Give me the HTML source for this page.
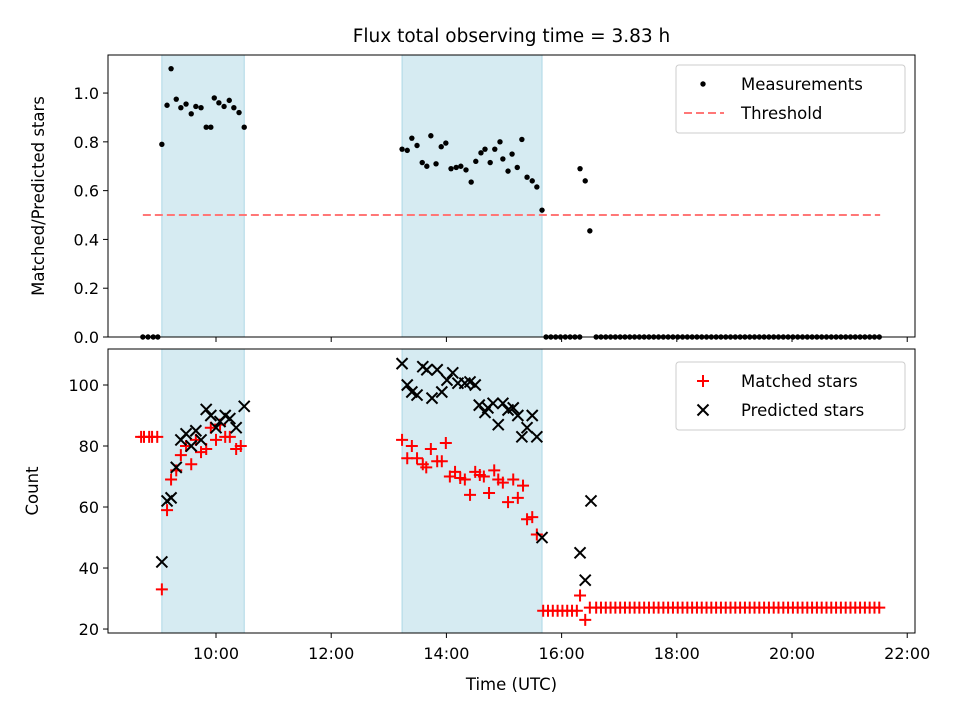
<!DOCTYPE html>
<html><head><meta charset="utf-8"><style>
body{margin:0;background:#fff}
svg{display:block;font-family:"DejaVu Sans","Liberation Sans",sans-serif}
</style></head><body>
<svg id="chart" width="960" height="720"></svg>
<script>
// ---- data (hours UTC) ----
const topTimes=[9.06,9.15,9.22,9.31,9.39,9.48,9.57,9.65,9.74,9.83,9.91,9.97,10.05,10.14,10.23,10.31,10.40,10.49,
13.23,13.32,13.40,13.49,13.58,13.66,13.73,13.82,13.91,13.99,14.08,14.17,14.25,14.34,14.43,14.51,14.60,14.67,14.76,14.84,14.93,14.98,15.07,15.14,15.23,15.31,15.40,15.49,15.57,15.66,16.32,16.41,16.49];
const topRatios=[0.79,0.95,1.10,0.975,0.94,0.955,0.915,0.945,0.94,0.86,0.86,0.98,0.96,0.945,0.97,0.94,0.92,0.86,
0.77,0.765,0.815,0.785,0.715,0.70,0.825,0.71,0.78,0.795,0.69,0.695,0.70,0.685,0.635,0.72,0.755,0.77,0.715,0.77,0.80,0.73,0.68,0.75,0.695,0.81,0.655,0.64,0.615,0.52,0.69,0.64,0.435];
const zeroTimesEarly=[8.73,8.82,8.91,8.99];
const zeroStartLate=15.73, zeroStepLate=0.0835, zeroCountLate=8;
const zeroStartTail=16.6, zeroStepTail=0.0833, zeroCountTail=60;
const threshold=0.5, thresholdRange=[8.73,21.53];
const spans=[[9.06,10.49],[13.23,15.66]];
const matchedTimes=[8.70,8.75,8.84,8.89,8.98,9.06,9.15,9.22,9.31,9.39,9.48,9.57,9.65,9.74,9.83,9.91,10.0,10.07,10.16,10.24,10.35,10.43,
13.23,13.32,13.40,13.49,13.59,13.65,13.73,13.84,13.92,13.99,14.06,14.15,14.24,14.32,14.41,14.50,14.58,14.65,14.74,14.83,14.90,14.98,15.07,15.16,15.24,15.33,15.40,15.49,15.57,16.32,16.41,16.49];
const matchedCounts=[83,83,83,83,83,33,59,69,72,77,80,74,82,78,79,86,82,87,83,83,79,80,
82,76,80,76,74,73,79,75,75,81,70,71.5,69.5,69,64,71.5,70.5,70,64.6,72,69,68,61.6,69,63,67,56,56.7,51,31,23,27];
const matchedFlatLate=26, matchedFlatTail=27;
const predTimes=[9.06,9.15,9.22,9.31,9.39,9.48,9.57,9.65,9.74,9.83,9.91,10.0,10.07,10.16,10.24,10.35,10.49,
13.23,13.32,13.40,13.49,13.59,13.66,13.75,13.84,13.92,14.01,14.11,14.20,14.32,14.41,14.50,14.57,14.67,14.72,14.81,14.90,14.98,15.07,15.16,15.24,15.31,15.40,15.49,15.57,15.66,16.32,16.41,16.51];
const predCounts=[42,62,63,73,82,84,80,85,82,92,90,86,88,90,89,86,93,
107,100,97.7,96.7,106,105,95.7,105,97.7,101.6,104,100.6,100.6,101,100,93.4,91,92.5,94,87,94,91.8,92.5,90,83,86,90,83,50,45,36,62];
const xTicks=[10,12,14,16,18,20,22];
const topYTicks=[0,0.2,0.4,0.6,0.8,1.0];
const botYTicks=[20,40,60,80,100];

// ---- axes ----
const L=108,R=915, X0=8.125,X1=22.135;
const T1=55,B1=337,Y1a=0,Y1b=1.156;
const T2=349,B2=633,Y2a=18.7,Y2b=111.8;
const sx=h=>L+(h-X0)/(X1-X0)*(R-L);
const sy1=v=>B1-(v-Y1a)/(Y1b-Y1a)*(B1-T1);
const sy2=v=>B2-(v-Y2a)/(Y2b-Y2a)*(B2-T2);
const svg=document.getElementById('chart');
const NS='http://www.w3.org/2000/svg';
function mk(tag,attrs,parent){const e=document.createElementNS(NS,tag);for(const k in attrs)e.setAttribute(k,attrs[k]);(parent||svg).appendChild(e);return e;}
function txt(s,x,y,size,anchor,parent){const e=mk('text',{x:x,y:y,'font-size':size,'text-anchor':anchor||'middle',fill:'#000'},parent);e.textContent=s;return e;}

// title
const title=txt('Flux total observing time = 3.83 h',(L+R)/2,42,18.5);



function panel(T,B,sy,yTicks,fmt,name){
  const g=mk('g',{});
  
  
  spans.forEach(s=>{const r=mk('rect',{x:sx(s[0]),y:T,width:sx(s[1])-sx(s[0]),height:B-T,fill:'#add8e6','fill-opacity':0.5,stroke:'#add8e6','stroke-width':1},g);
    
    });
  xTicks.forEach(h=>{const x=sx(h);mk('line',{x1:x,x2:x,y1:B,y2:B+5,stroke:'#000'},g);
    if(name==='bottom-panel'){const t=txt(h+':00',x,B+26,16,'middle',g);}});
  yTicks.forEach(v=>{const y=sy(v);mk('line',{x1:L-5,x2:L,y1:y,y2:y,stroke:'#000'},g);
    const t=txt(fmt(v),L-9,y+6,16,'end',g);});
  return g;
}
const g1=panel(T1,B1,sy1,topYTicks,v=>v.toFixed(1),'top-panel');
const g2=panel(T2,B2,sy2,botYTicks,v=>String(v),'bottom-panel');

// threshold
const th=mk('line',{x1:sx(thresholdRange[0]),x2:sx(thresholdRange[1]),y1:sy1(threshold),y2:sy1(threshold),stroke:'#ff7777','stroke-width':2,'stroke-dasharray':'8,4'},g1);



function dot(h,v){const c=mk('circle',{cx:sx(h),cy:sy1(v),r:2.7,fill:'#000'},g1);
  
  }
zeroTimesEarly.forEach(h=>dot(h,0));
topTimes.forEach((h,i)=>dot(h,topRatios[i]));
for(let i=0;i<zeroCountLate;i++)dot(zeroStartLate+i*zeroStepLate,0);
for(let i=0;i<zeroCountTail;i++)dot(zeroStartTail+i*zeroStepTail,0);

function plus(h,v){const x=sx(h),y=sy2(v);const p=mk('path',{d:`M${x-6},${y}H${x+6}M${x},${y-6}V${y+6}`,stroke:'#f00','stroke-width':2},g2);
  
  }
function cross(h,v){const x=sx(h),y=sy2(v);const p=mk('path',{d:`M${x-5.5},${y-5.5}L${x+5.5},${y+5.5}M${x-5.5},${y+5.5}L${x+5.5},${y-5.5}`,stroke:'#000','stroke-width':2},g2);
  
  }
matchedTimes.forEach((h,i)=>plus(h,matchedCounts[i]));
for(let i=0;i<zeroCountLate;i++)plus(zeroStartLate-0.05+i*zeroStepLate,matchedFlatLate);
for(let i=0;i<zeroCountTail;i++)plus(zeroStartTail+i*zeroStepTail,matchedFlatTail);
predTimes.forEach((h,i)=>cross(h,predCounts[i]));

// frames
[[T1,B1],[T2,B2]].forEach(([T,B])=>{const f=mk('rect',{x:L,y:T,width:R-L,height:B-T,fill:'none',stroke:'#000','stroke-width':1});
  
  });

// axis labels
const yl1=txt('Matched/Predicted stars',0,0,16.5);yl1.setAttribute('transform','translate(44,196) rotate(-90)');

const yl2=txt('Count',0,0,16.5);yl2.setAttribute('transform','translate(38,491) rotate(-90)');

const xl=txt('Time (UTC)',(L+R)/2,690,16.5);


// legends
function legend(y,items,name){const g=mk('g',{});
  
  mk('rect',{x:676,y:y,width:229,height:68,rx:3,fill:'#fff',stroke:'#ccc'},g);
  items.forEach((it,i)=>{const cy=y+19+i*29;it.draw(g,703,cy);
    const t=txt(it.label,741,cy+6,16.5,'start',g);});}
legend(65,[{label:'Measurements',draw:(g,x,y)=>mk('circle',{cx:x,cy:y,r:2.7,fill:'#000'},g)},
  {label:'Threshold',draw:(g,x,y)=>mk('line',{x1:x-19,x2:x+21,y1:y,y2:y,stroke:'#ff7777','stroke-width':2,'stroke-dasharray':'8,4'},g)}],'top-legend');
legend(362,[{label:'Matched stars',draw:(g,x,y)=>mk('path',{d:`M${x-6},${y}H${x+6}M${x},${y-6}V${y+6}`,stroke:'#f00','stroke-width':2},g)},
  {label:'Predicted stars',draw:(g,x,y)=>mk('path',{d:`M${x-5.5},${y-5.5}L${x+5.5},${y+5.5}M${x-5.5},${y+5.5}L${x+5.5},${y-5.5}`,stroke:'#000','stroke-width':2},g)}],'bottom-legend');
</script>
</body></html>
